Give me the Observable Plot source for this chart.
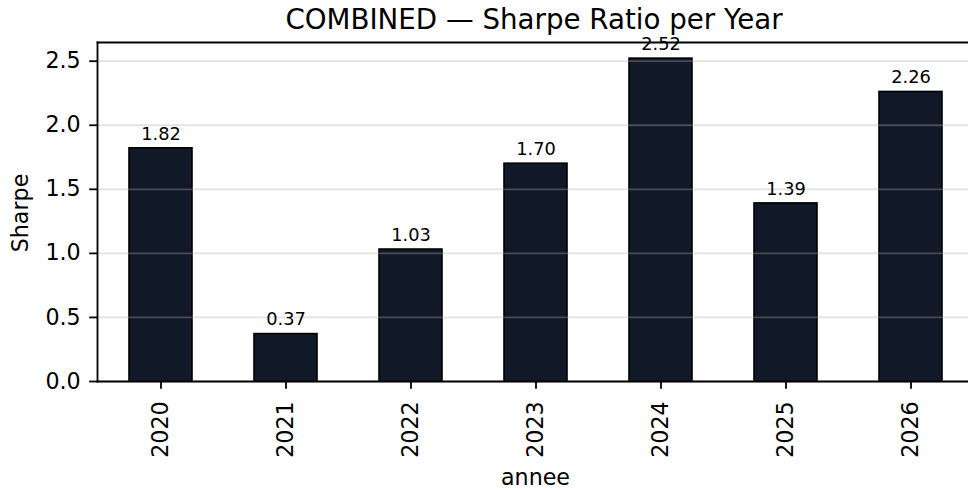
<!DOCTYPE html>
<html><head><meta charset="utf-8">
<script src="https://cdn.jsdelivr.net/npm/d3@7"></script>
<script src="https://cdn.jsdelivr.net/npm/@observablehq/plot@0.6"></script>
<style>body{margin:0;background:#fff} #chart svg{font-family:"DejaVu Sans";}</style>
</head><body><div id="chart"></div>
<script>
const years = ["2020", "2021", "2022", "2023", "2024", "2025", "2026"];
const sharpe = [1.82, 0.37, 1.03, 1.70, 2.52, 1.39, 2.26];
const yTicks = [0, 0.5, 1.0, 1.5, 2.0, 2.5];
const title = "COMBINED — Sharpe Ratio per Year";
const xLabel = "annee";
const yLabel = "Sharpe";

const data = years.map((y, i) => ({annee: y, sharpe: sharpe[i]}));
const yMax = d3.max(sharpe) * 1.05;

const plot = Plot.plot({
  width: 968, height: 490,
  marginLeft: 97, marginRight: 0, marginTop: 42, marginBottom: 109,
  style: {fontFamily: "DejaVu Sans", background: "#fff", color: "#000", overflow: "visible"},
  x: {domain: years, range: [97, 973], paddingInner: 0.5, paddingOuter: 0.25, label: null},
  y: {domain: [0, yMax], label: null},
  marks: [
    Plot.barY(data, {x: "annee", y: "sharpe", fill: "#111827", stroke: "#000", strokeWidth: 1.6}),
    Plot.ruleY(yTicks, {stroke: "#b0b0b0", strokeOpacity: 0.35, strokeWidth: 1.8}),
    Plot.frame({anchor: "left", stroke: "#000", strokeWidth: 1.8}),
    Plot.frame({anchor: "top", stroke: "#000", strokeWidth: 1.8}),
    Plot.frame({anchor: "bottom", stroke: "#000", strokeWidth: 1.8}),
    Plot.axisY({ticks: yTicks, tickFormat: d3.format(".1f"), tickSize: 7.8, tickPadding: 9, fontSize: 22.2, strokeWidth: 1.8, label: null}),
    Plot.axisX({tickRotate: -90, tickSize: 7.8, tickPadding: 12, fontSize: 22.2, strokeWidth: 1.8, label: null}),
    Plot.text(data, {x: "annee", y: "sharpe", text: d => d.sharpe.toFixed(2), dy: -14.4, fontSize: 17.8, fill: "#000"}),
    Plot.text([title], {frameAnchor: "top", textAnchor: "middle", lineAnchor: "middle", dx: 1, dy: -22.6, fontSize: 27.7, fill: "#000"}),
    Plot.text([xLabel], {frameAnchor: "bottom", textAnchor: "middle", lineAnchor: "middle", dx: 2.5, dy: 96, fontSize: 22.2, fill: "#000"}),
    Plot.text([yLabel], {frameAnchor: "left", textAnchor: "middle", lineAnchor: "middle", dx: -76.2, dy: 1, rotate: -90, fontSize: 22.2, fill: "#000"})
  ]
});
document.getElementById("chart").append(plot);
</script>
</body></html>
